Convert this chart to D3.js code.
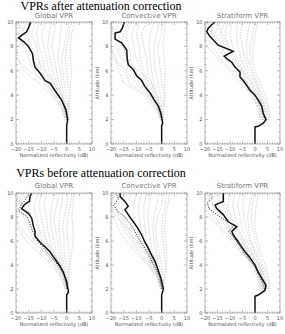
<!DOCTYPE html>
<html>
<head>
<meta charset="utf-8">
<script src="https://cdn.jsdelivr.net/npm/d3@7"></script>
<style>
  body { margin: 0; background: #fff; }
  svg { display: block; }
</style>
</head>
<body>
<svg id="chart"></svg>
<script>
// ---- data ----
var rowTitles = ["VPRs after attenuation correction", "VPRs before attenuation correction"];
var panelTitles = ["Global VPR", "Convective VPR", "Stratiform VPR"];
var xTicks = [-20, -15, -10, -5, 0, 5, 10];
var yTicks = [0, 2, 4, 6, 8, 10];

// mean profiles, [altitude km, reflectivity dB]
var globalAfterMean = [[0,0],[1.5,0],[2,0.4],[2.8,-0.3],[3.6,-2],[4.2,-4],[5,-6.6],[5.2,-8.5],[5.8,-10.5],[6.3,-12.5],[6.9,-13.2],[7.4,-13.5],[8,-15.1],[8.4,-17],[8.7,-19],[8.9,-17.8],[9.2,-15.8],[9.6,-14.9],[10,-14.2]];
var convAfterMean = [[0,0],[1.5,0],[1.7,0.4],[2.5,-0.3],[3.1,-1.3],[3.6,-2.9],[4.2,-4.6],[4.7,-6.6],[5.2,-7.9],[5.6,-9.9],[6.1,-11.2],[6.5,-13.2],[7,-13.6],[7.7,-13.8],[8.3,-15.8],[8.6,-18.4],[9.1,-18.4],[9.2,-16.4],[9.5,-15.5],[10,-14.7]];
var stratAfterMean = [[0,0],[1.4,0],[1.45,1.3],[1.7,3.3],[2,4.4],[2.5,3.3],[3.1,2.7],[3.6,1.3],[4,0],[4.4,-2],[4.8,-3.3],[5.2,-4.7],[5.5,-6],[5.9,-6],[6.3,-8],[6.7,-9.3],[7,-11.3],[7.2,-12.3],[7.6,-8.7],[8.1,-14.7],[8.8,-18],[9.2,-19.3],[9.5,-18.7],[9.9,-16.7],[10,-16]];
var globalBeforeMean = [[0,0],[1.5,0],[1.75,0.7],[2.6,0],[3.4,-1.3],[3.9,-2.6],[4.5,-4.6],[5.1,-6.6],[5.5,-8.5],[5.9,-10.5],[6.4,-12.5],[6.8,-12.5],[7.3,-13.2],[7.9,-13.8],[8.3,-15.1],[8.7,-17.8],[9,-16.8],[9.3,-14.7],[9.7,-14.5],[10,-13.8]];
var convBeforeMean = [[0,0],[1.5,0],[2,0.7],[2.9,-0.3],[3.7,-1.6],[4.3,-2.6],[4.8,-3.9],[5.4,-5.3],[5.9,-6.6],[6.5,-7.9],[7.1,-9.5],[7.6,-11.2],[8.2,-13.2],[8.6,-14.5],[8.9,-13.2],[9.3,-14.5],[9.7,-16.4],[10,-16.4]];
var stratBeforeMean = [[0,0],[1.4,0],[1.5,1.3],[1.9,4],[2.3,4.4],[2.9,2.7],[3.4,1.3],[4,0],[4.6,-2],[5.1,-4],[5.7,-6],[6.1,-7.3],[6.5,-8.7],[6.8,-9.3],[7.2,-7.3],[7.6,-10.7],[8.2,-12.7],[8.7,-15.3],[9,-16],[9.3,-12.7],[9.9,-12.7],[10,-12.7]];

// dotted black profiles on the "before" panels
var globalBeforeDotted = [[2,0.3],[3,-0.8],[4,-3.5],[5,-7.5],[6,-11.5],[7,-13.8],[8,-15.5],[8.5,-19],[9,-18],[9.5,-16],[10,-15]];
var convBeforeDotted = [[2,0.2],[3,-0.8],[4,-3],[5,-5.5],[6,-8.5],[7,-11],[8,-14.5],[8.5,-17.5],[9,-19],[9.5,-17],[10,-18]];
var stratBeforeDotted = [[2,4],[3,2],[4,-0.5],[5,-4.5],[6,-7.5],[6.8,-10.5],[7.3,-8.5],[8,-14],[8.7,-18.5],[9.2,-19],[9.6,-17],[10,-18]];

// individual profiles (gray), values at grayAlt
var grayAlt = [2, 3, 4, 5, 6, 7, 8, 9, 10];
var globalAfterGray = [
  [0.5, 1, 1.5, 1.5, 2, 1.5, 1.5, 2, 3],
  [0.5, 0.5, 0, -1, -1.5, -2, -1, 0, 1],
  [0, -0.5, -1.5, -3, -4, -5, -6, -5, -4],
  [0, -1, -3, -5, -7, -8, -9, -10, -8],
  [0.5, -0.5, -3.5, -7, -10, -11, -12, -14, -12],
  [0, -1.5, -4.5, -9, -13, -15, -17, -18, -16],
  [-0.5, -2, -6, -11, -17, -19, -20, -20, -19],
  [0, -1, -2.5, -5, -8.5, -12, -14, -16, -20],
  [0, 0.5, 1, 0.5, 0, -0.5, 0, 1, 2],
  [0, 0, -1, -2, -2.5, -3.5, -3, -2.5, -2],
  [0.5, -0.5, -2, -4, -5.5, -6.5, -7.5, -7, -6],
  [0, -1.5, -4, -6, -8.5, -9.5, -11, -12, -11],
  [0, -0.5, -2, -6, -11, -13, -15, -15, -14],
  [-0.5, -2.5, -5, -8, -15, -20, -20, -19, -18]
];
var convAfterGray = [
  [0.5, 1, 1.5, 1, 1.5, 1, 0.5, 1, 1.5],
  [0.5, 0, -0.5, -1.5, -2.5, -3, -3, -2, -1],
  [0, -1, -2.5, -4, -5.5, -6, -7, -8, -6],
  [0, -1.5, -3.5, -6, -8, -10, -11, -12, -10],
  [0, -2, -5, -9, -12, -14, -15, -17, -15],
  [-0.5, -3, -7, -15, -17, -18, -20, -20, -19],
  [0.5, -0.5, -2, -4, -9, -16, -18, -19, -20],
  [0, -1, -4, -7, -10, -13, -16, -15, -13],
  [0, 0.5, 1, 0, -0.5, -1, -1.5, 0, 0.5],
  [0.5, -0.5, -1.5, -3, -4, -4.5, -5, -4.5, -3],
  [0, -1, -3, -5, -7, -8.5, -9, -10, -9],
  [0, -2.5, -6, -13, -14, -12, -13, -14, -12],
  [-0.5, -1.5, -4.5, -8, -11, -15, -17, -18, -17],
  [0, -2, -5.5, -10, -14, -19, -20, -20, -20]
];
var stratAfterGray = [
  [5.5, 5, 3, 1, -1, -2, -2, -1, 0],
  [4, 3.5, 2, 0, -2.5, -4, -5, -6, -5],
  [3, 2, 0.5, -2, -4.5, -7, -9, -10, -9],
  [4.5, 3, 1, -3, -6, -9, -12, -14, -12],
  [2, 1, -1, -4.5, -8, -12, -15, -18, -16],
  [3.5, 2.5, -0.5, -6, -10, -15, -19, -20, -20],
  [5, 4, 2.5, 0.5, -1.5, -3, -3.5, -3, -2],
  [3, 2.5, 0, -3.5, -7, -10, -14, -17, -19],
  [6, 5.5, 4, 2, 0, -1, -0.5, 0, 1],
  [4.5, 4, 1.5, -1, -3.5, -5.5, -7, -7.5, -7],
  [2.5, 1.5, -0.5, -3, -5.5, -8, -10.5, -12, -11],
  [3.5, 2, 0, -4, -7, -11, -13, -16, -14],
  [4, 3, 1.5, -1.5, -5, -8, -11, -13, -15],
  [2, 1.5, -1.5, -5, -9, -14, -17, -20, -19]
];
var globalBeforeGray = [
  [0.5, 1, 1.5, 2, 2.5, 2.5, 2, 2.5, 3],
  [0.5, 0.5, 0, -1, -1, -1.5, -1, 0, 0.5],
  [0, -0.5, -1.5, -3, -3.5, -4.5, -5, -4, -3],
  [0, -1, -3, -5, -6.5, -7.5, -8, -9, -8],
  [0.5, -0.5, -3.5, -6.5, -9.5, -11, -12, -13, -11],
  [0, -1.5, -4.5, -8.5, -12.5, -15, -17, -18, -17],
  [-0.5, -2, -6, -11, -16, -19, -20, -20, -19],
  [0, -1, -2.5, -5, -8, -11, -14, -17, -20],
  [0, 0.5, 1, 1, 0.5, 0, 0.5, 1.5, 2],
  [0, 0, -1, -2, -2.5, -3, -3, -2, -1.5],
  [0.5, -0.5, -2, -4, -5, -6, -6.5, -6, -5],
  [0, -1.5, -4, -6, -8, -9, -10, -11, -10],
  [0, -0.5, -2, -5.5, -10, -13, -14, -15, -14],
  [-0.5, -2.5, -5, -8, -14, -18, -20, -19, -18]
];
var convBeforeGray = [
  [0.5, 1.5, 2, 2, 1.5, 1, 1.5, 2.5, 3],
  [0.5, 0.5, 0, -1, -2, -2.5, -1.5, 0, 1],
  [0, -0.5, -2, -3.5, -4.5, -5, -5.5, -5, -4],
  [0, -1, -3, -5, -7, -8, -9, -9, -8],
  [0, -1.5, -4, -7, -9.5, -11, -13, -14, -12],
  [-0.5, -2, -5, -9, -12, -15, -17, -18, -17],
  [0.5, -0.5, -2.5, -5, -8, -13, -18, -20, -20],
  [0, -1, -3.5, -6, -10, -14, -16, -20, -19],
  [0, 1, 1.5, 1, 0.5, 0, 0.5, 1.5, 2],
  [0.5, 0, -1, -2, -3, -3.5, -3, -2, -1],
  [0, -1, -2.5, -4.5, -6, -6.5, -7, -7, -6],
  [0, -1.5, -3.5, -6, -8, -9.5, -11, -11, -10],
  [-0.5, -1.5, -4.5, -8, -11, -13, -15, -16, -15],
  [0, -2, -5.5, -10, -14, -17, -19, -20, -18]
];
var stratBeforeGray = [
  [5.5, 5, 3, 1.5, 0, -1, -1.5, -1, 0],
  [4, 3.5, 2, 0, -2, -3.5, -4.5, -5, -4],
  [3, 2, 0.5, -2, -4, -6.5, -8, -9, -8],
  [4.5, 3, 1, -2.5, -5.5, -8.5, -11, -13, -12],
  [2, 1, -1, -4, -7.5, -11, -14, -17, -16],
  [3.5, 2.5, -0.5, -5.5, -9.5, -14, -18, -20, -20],
  [5, 4, 2.5, 0.5, -1.5, -2.5, -3, -2, -1],
  [3, 2.5, 0, -3, -6.5, -10, -13, -17, -19],
  [6, 5.5, 4, 2.5, 1, 0, 0, 0.5, 1.5],
  [4.5, 4, 1.5, -1, -3, -5, -6, -7, -6],
  [2.5, 1.5, -0.5, -3, -5, -7.5, -9.5, -11, -10],
  [3.5, 2, 0, -3.5, -6.5, -10, -12, -15, -14],
  [4, 3, 1.5, -1.5, -4.5, -7, -10, -12, -13],
  [2, 1.5, -1.5, -5, -8.5, -13, -16, -19, -18]
];

// ---- layout ----
var W = 285, H = 334;
var panelX = [16, 111, 205], panelW = [76, 76, 75];
var rowTop = [22, 193], rowH = [122, 120];
var titleY = [9.5, 177], subY = [17.5, 187.5];

var svg = d3.select("#chart").attr("width", W).attr("height", H);

var panels = [
  {row: 0, col: 0, mean: globalAfterMean, gray: globalAfterGray},
  {row: 0, col: 1, mean: convAfterMean, gray: convAfterGray},
  {row: 0, col: 2, mean: stratAfterMean, gray: stratAfterGray},
  {row: 1, col: 0, mean: globalBeforeMean, gray: globalBeforeGray, dotted: globalBeforeDotted},
  {row: 1, col: 1, mean: convBeforeMean, gray: convBeforeGray, dotted: convBeforeDotted},
  {row: 1, col: 2, mean: stratBeforeMean, gray: stratBeforeGray, dotted: stratBeforeDotted}
];

rowTitles.forEach(function(t, i) {
  svg.append("text")
    .attr("x", 101).attr("y", titleY[i])
    .attr("text-anchor", "middle")
    .style("font-family", "'Liberation Serif', 'Times New Roman', serif")
    .style("font-size", "12px")
    .text(t);
});

function drawPanel(p) {
  var w = panelW[p.col], h = rowH[p.row];
  var g = svg.append("g")
    .attr("transform", "translate(" + panelX[p.col] + "," + rowTop[p.row] + ")");

  var x = d3.scaleLinear().domain([-20, 10]).range([0, w]);
  var y = d3.scaleLinear().domain([0, 10]).range([h, 0]);

  var clipId = "clip" + p.row + p.col;
  g.append("clipPath").attr("id", clipId)
    .append("rect").attr("width", w).attr("height", h);

  var plot = g.append("g").attr("clip-path", "url(#" + clipId + ")");

  var line = d3.line()
    .x(function(d) { return x(d[1]); })
    .y(function(d) { return y(d[0]); });

  // gray individual profiles
  p.gray.forEach(function(vals) {
    var pts = grayAlt.map(function(a, i) { return [a, vals[i]]; });
    plot.append("path")
      .datum(pts)
      .attr("d", line)
      .attr("fill", "none")
      .attr("stroke", "#ababab")
      .attr("stroke-width", 0.7)
      .attr("stroke-dasharray", "0.6,1");
  });

  if (p.dotted) {
    plot.append("path")
      .datum(p.dotted)
      .attr("d", line)
      .attr("fill", "none")
      .attr("stroke", "#222")
      .attr("stroke-width", 1)
      .attr("stroke-dasharray", "1,1.5");
  }

  plot.append("path")
    .datum(p.mean)
    .attr("d", line)
    .attr("fill", "none")
    .attr("stroke", "#111")
    .attr("stroke-width", 1.5);

  // frame
  g.append("rect")
    .attr("width", w).attr("height", h)
    .attr("fill", "none")
    .attr("stroke", "#888")
    .attr("stroke-width", 0.6);

  // ticks (inward, on all sides)
  var ticks = g.append("g").attr("stroke", "#888").attr("stroke-width", 0.6);
  d3.range(-20, 10.01, 1).forEach(function(v) {
    var len = (v % 5 === 0) ? 3 : 1.5;
    ticks.append("line").attr("x1", x(v)).attr("x2", x(v)).attr("y1", h).attr("y2", h - len);
    ticks.append("line").attr("x1", x(v)).attr("x2", x(v)).attr("y1", 0).attr("y2", len);
  });
  d3.range(0, 10.01, 0.5).forEach(function(v) {
    var len = (v % 2 === 0) ? 3 : 1.5;
    ticks.append("line").attr("y1", y(v)).attr("y2", y(v)).attr("x1", 0).attr("x2", len);
    ticks.append("line").attr("y1", y(v)).attr("y2", y(v)).attr("x1", w).attr("x2", w - len);
  });

  var lab = "font-family:'DejaVu Sans',sans-serif;font-size:5px;fill:#555";
  xTicks.forEach(function(v) {
    g.append("text").attr("x", x(v)).attr("y", h + 7)
      .attr("text-anchor", "middle").attr("style", lab)
      .text(v === 0 ? "0" : (v < 0 ? "\u2212" + (-v) : v));
  });
  yTicks.forEach(function(v) {
    g.append("text").attr("x", -2.5).attr("y", y(v) + 1.8)
      .attr("text-anchor", "end").attr("style", lab)
      .text(v);
  });

  g.append("text").attr("x", w / 2).attr("y", h + 13)
    .attr("text-anchor", "middle").attr("style", lab)
    .text("Normalized reflectivity (dB)");

  if (p.col > 0) {
    g.append("text")
      .attr("transform", "translate(-12," + (h / 2) + ") rotate(-90)")
      .attr("text-anchor", "middle").attr("style", lab)
      .text("Altitude (km)");
  }

  g.append("text").attr("x", w / 2).attr("y", subY[p.row] - rowTop[p.row])
    .attr("text-anchor", "middle")
    .attr("style", "font-family:'DejaVu Sans',sans-serif;font-size:7px;fill:#777")
    .text(panelTitles[p.col]);
}

panels.forEach(drawPanel);
</script>
</body>
</html>
